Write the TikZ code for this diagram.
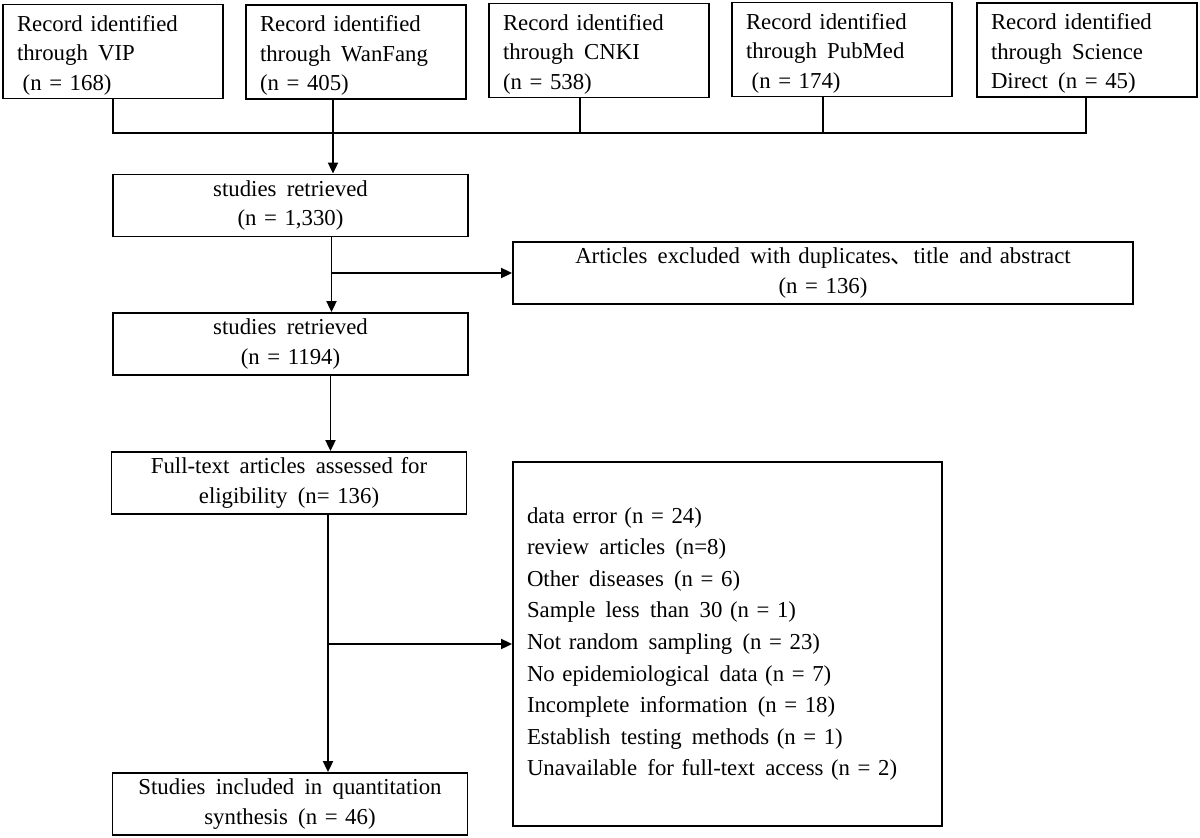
\documentclass[tikz,border=0pt]{standalone}
\usepackage{fontspec}
\setmainfont{Liberation Serif}
\newfontfamily\cjk{Noto Sans CJK SC}
\usetikzlibrary{arrows.meta,calc}
\newcommand{\ws}{\hspace{0.45em}}
\begin{document}
\begin{tikzpicture}[x=1pt,y=-1pt,
  every node/.style={font=\fontsize{22.8}{29.5}\selectfont},
  box/.style={draw, line width=1.8pt, inner sep=0pt, rectangle},
  src/.style={box, minimum width=220pt, minimum height=94pt, text width=192pt, align=left,
    execute at begin node={\rule{0pt}{23pt}}},
  mid/.style={box, minimum width=355pt, minimum height=62pt, text width=340pt, align=center},
  conn/.style={line width=1.8pt},
  arr/.style={conn, -{Triangle[length=11pt,width=10pt]}}]
\useasboundingbox (0,0) rectangle (1200,838);
% source boxes
\node[src] (b1) at (113,51.5) {Record identified\\through\ws VIP\\\hspace*{0.25em}(n = 168)};
\node[src] (b2) at (356,52) {Record identified\\through\ws WanFang\\(n = 405)};
\node[src] (b3) at (599,50.5) {Record identified\\through\ws CNKI\\(n = 538)};
\node[src] (b4) at (842,49.5) {Record identified\\through\ws PubMed\\\hspace*{0.25em}(n = 174)};
\node[src] (b5) at (1087,50) {Record identified\\through\ws Science\\Direct\ws (n = 45)};
% main column
\node[mid] (s1) at (290.5,205.5) {studies\ws retrieved\\(n = 1,330)};
\node[mid] (s2) at (290.5,344) {studies\ws retrieved\\(n = 1194)};
\node[mid] (ft) at (289,483) {Full-text\ws articles\ws assessed for\\eligibility\ws (n= 136)};
\node[mid] (inc) at (290,804) {Studies\ws included\ws in\ws quantitation\\synthesis\ws (n = 46)};
% exclusion boxes
\node[box, minimum width=620pt, minimum height=62pt, text width=600pt, align=center] (ex) at (823,273)
  {Articles\ws excluded\ws with duplicates{\cjk 、}title\ws and abstract\\(n = 136)};
\node[box, minimum width=429pt, minimum height=364pt, text width=401pt, align=left,
  font=\fontsize{22.8}{31.6}\selectfont] (dt) at (727.5,644)
  {data error (n = 24)\\
   review\ws articles\ws (n=8)\\
   Other\ws diseases\ws (n = 6)\\
   Sample\ws less\ws than\ws 30 (n = 1)\\
   Not random\ws sampling\ws (n = 23)\\
   No epidemiological\ws data (n = 7)\\
   Incomplete\ws information\ws (n = 18)\\
   Establish\ws testing\ws methods (n = 1)\\
   Unavailable\ws for full-text\ws access (n = 2)};
% bus connectors
\coordinate (bus) at (0,133);
\coordinate (p1) at (b1.south);
\coordinate (p2) at ($(b2.south)+(-23,0)$);
\coordinate (p3) at ($(b3.south)+(-19,0)$);
\coordinate (p4) at ($(b4.south)+(-19,0)$);
\coordinate (p5) at ($(b5.south)+(-1,0)$);
\draw[conn] (p1) -- (p1 |- bus) -- (p5 |- bus) -- (p5);
\foreach \p in {p2,p3,p4} \draw[conn] (\p) -- (\p |- bus);
\draw[arr] (p2 |- bus) -- (p2 |- s1.north);
% trunk
\coordinate (t1) at ($(s1.south)+(41,0)$);
\draw[arr] (t1) -- (t1 |- s2.north);
\draw[arr] (t1 |- ex.west) -- (ex.west);
\coordinate (t2) at ($(s2.south)+(40,0)$);
\draw[arr] (t2) -- (t2 |- ft.north);
\coordinate (t3) at ($(ft.south)+(39,0)$);
\draw[arr] (t3) -- (t3 |- inc.north);
\draw[arr] (t3 |- dt.west) -- (dt.west);
\end{tikzpicture}
\end{document}
